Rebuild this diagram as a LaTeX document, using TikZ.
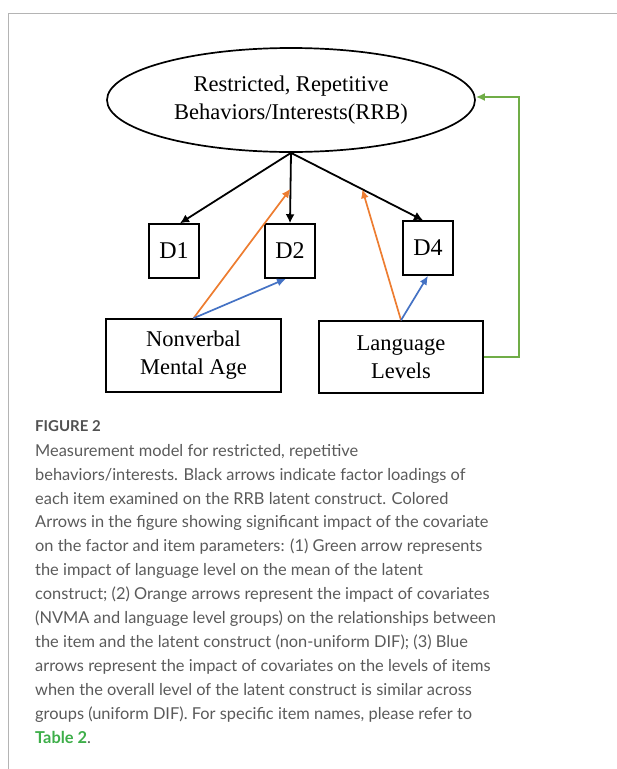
\documentclass[tikz,border=0pt]{standalone}
\usepackage{fontspec}
\setmainfont{Liberation Serif}
\newfontfamily\capfont{Lato}
\usetikzlibrary{shapes.geometric,arrows.meta}

\definecolor{framegray}{HTML}{B4B4B4}
\definecolor{capgray}{HTML}{5A5A5A}
\definecolor{difblue}{HTML}{4472C4}
\definecolor{diforange}{HTML}{ED7D31}
\definecolor{meangreen}{HTML}{70AD47}
\definecolor{linkgreen}{HTML}{3DAE49}

\tikzset{
  item/.style={draw, line width=1.5, minimum width=50, minimum height=54,
    inner sep=0, font=\fontsize{24}{28}\selectfont},
  covar/.style={draw, line width=1.5, minimum width=175, minimum height=73,
    inner sep=0, align=center, font=\fontsize{22.5}{28}\selectfont},
  load/.style={-{Latex[length=9,width=9]}, line width=1.8},
  effect/.style={-{Latex[length=9,width=8]}, line width=1.7}
}

\begin{document}
\begin{tikzpicture}[x=1pt, y=-1pt]
        \useasboundingbox (0,0) rectangle (617,769);

        % page frame
        \draw[framegray, line width=1] (8,769) -- (8,13) -- (617,13);

        % Latent construct
        \node[ellipse, draw, line width=1.7, minimum width=368, minimum height=104,
            inner sep=0, align=center, font=\fontsize{22.5}{28}\selectfont]
            (rrb) at (291,100) {Restricted, Repetitive\\Behaviors/Interests(RRB)};

        % Items
        \node[item] (d1) at (174,251) {D1};
        \node[item] (d2) at (290,251) {D2};
        \node[item] (d4) at (428,248) {D4};

        % Covariates
        \node[covar] (nvma) at (193.5,355.5) {Nonverbal\\Mental Age};
        \node[covar, minimum width=164, minimum height=72] (lang) at (401,357)
            {Language\\Levels};

        % Factor loadings
        \draw[load] (rrb.south) -- ([xshift=6]d1.north);
        \draw[load] (rrb.south) -- (d2.north);
        \draw[load] (rrb.south) -- ([xshift=-5]d4.north);
        \path (rrb.south) -- (d2.north) coordinate[pos=0.51] (m2);
        \path (rrb.south) -- ([xshift=-5]d4.north) coordinate[pos=0.54] (m4);

        % Non-uniform DIF
        \draw[effect, diforange] (nvma.north) -- (m2);
        \draw[effect, diforange] (lang.north) -- (m4);

        % Uniform DIF
        \draw[effect, difblue] (nvma.north) -- ([xshift=-4]d2.south);
        \draw[effect, difblue] (lang.north) -- (d4.south);

        % Impact on the latent mean
        \draw[effect, meangreen] (lang.east) -- ++(35,0) |- ([yshift=3]rrb.east);

        % Caption
        \node[anchor=base west, inner sep=0, text=capgray!90!black,
            font=\capfont\bfseries\fontsize{15}{16}\selectfont] (figlabel) at (35,431)
            {FIGURE 2};
        \node[anchor=north west, inner sep=0, align=left, text=capgray,
            font=\capfont\fontsize{16.4}{23.9}\selectfont] (caption) at (35,444)
            {Measurement model for restricted, repetitive\\
             behaviors/interests. Black arrows indicate factor loadings of\\
             each item examined on the RRB latent construct. Colored\\
             Arrows in the figure showing significant impact of the covariate\\
             on the factor and item parameters: (1) Green arrow represents\\
             the impact of language level on the mean of the latent\\
             construct; (2) Orange arrows represent the impact of covariates\\
             (NVMA and language level groups) on the relationships between\\
             the item and the latent construct (non-uniform DIF); (3) Blue\\
             arrows represent the impact of covariates on the levels of items\\
             when the overall level of the latent construct is similar across\\
             groups (uniform DIF). For specific item names, please refer to\\
             \textcolor{linkgreen}{\bfseries Table 2}.};
    \end{tikzpicture}
\end{document}
